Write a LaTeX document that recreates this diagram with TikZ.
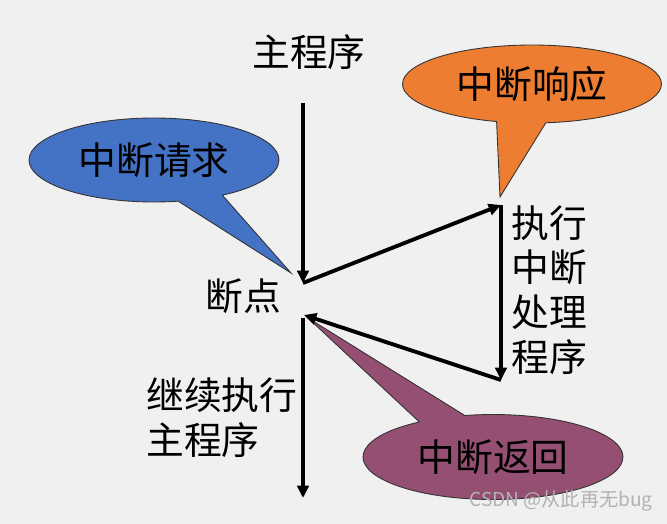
\documentclass[tikz,border=0pt]{standalone}
\usepackage{fontspec}
\setmainfont{Noto Sans CJK SC}
\usetikzlibrary{arrows.meta,shapes.callouts}
\definecolor{bgcol}{HTML}{F0F0F0}
\definecolor{reqblue}{HTML}{4472C4}
\definecolor{ackorange}{HTML}{ED7D31}
\definecolor{retpurple}{HTML}{954F72}
\begin{document}
\begin{tikzpicture}[x=0.02cm,y=-0.02cm,
	flow/.style={line width=2.2pt,-{Triangle[length=7pt,width=6.5pt]}},
	txt/.style={font=\fontsize{21.5}{25.5}\selectfont,inner sep=0pt},
	bubble/.style={ellipse callout,draw=black!80,line width=0.5pt,
		callout pointer arc=22,font=\fontsize{21.5}{24}\selectfont}]
	% Background
	\fill[bgcol] (0,0) rectangle (667,524);
	\useasboundingbox (0,0) rectangle (667,524);
	
	% Points on the flow
	\coordinate (start) at (303,103);
	\coordinate (brk) at (303,283);
	\coordinate (isr) at (501,205);
	\coordinate (isrend) at (501,380);
	\coordinate (ret) at (304,315);
	\coordinate (resume) at (303,318);
	\coordinate (stop) at (303,498);
	
	% Callouts
	\node[bubble,fill=reqblue,minimum width=5cm,minimum height=1.68cm,
		callout absolute pointer={(291,273)}] (req) at (154,160) {中断请求};
	\node[bubble,fill=ackorange,minimum width=5.18cm,minimum height=1.56cm,
		callout absolute pointer={(500,197)}] (ack) at (532,84) {中断响应};
	\node[bubble,fill=retpurple,minimum width=5.2cm,minimum height=1.7cm,
		callout absolute pointer={(308,318)}] (back) at (493,457) {中断返回};
	
	% Labels
	\node[txt] (main) at (309,52) {主程序};
	\node[txt] (bp) at (243,296) {断点};
	\node[txt,align=center] (handler) at (549,290) {执行\\中断\\处理\\程序};
	\node[txt,align=left,anchor=west] (cont) at (146,418) {继续执行\\主程序};
	
	% Arrows
	\draw[flow] (start) -- (brk);
	\draw[flow] (brk) -- (isr);
	\draw[flow] (isr) -- (isrend);
	\draw[flow] (isrend) -- (ret);
	\draw[flow] (resume) -- (stop);
	
	\node[font=\fontsize{10.9}{12}\selectfont,text=black!30,inner sep=0pt] (mark) at (561,501) {CSDN @从此再无bug};
\end{tikzpicture}
\end{document}
